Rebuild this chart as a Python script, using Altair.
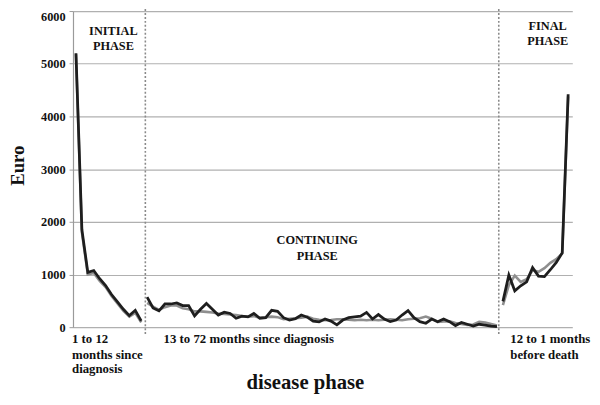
import altair as alt
import pandas as pd

# ---- data (Euro per month) ----
initial_dark = [5200, 1850, 1040, 1075, 920, 790, 620, 480, 340, 220, 320, 120]
initial_gray = [5180, 1800, 1000, 1030, 880, 760, 590, 450, 310, 200, 270, 90]

continuing_dark = [570, 365, 310, 440, 440, 460, 410, 410, 215, 340,
                   450, 340, 230, 285, 260, 170, 210, 195, 260, 170,
                   180, 320, 300, 180, 135, 160, 230, 190, 115, 100,
                   155, 115, 45, 135, 180, 195, 210, 280, 155, 240,
                   155, 105, 135, 230, 315, 180, 105, 75, 155, 105,
                   155, 105, 30, 90, 55, 20, 55, 40, 20, 10]
continuing_gray = [460, 390, 330, 380, 410, 410, 360, 340, 300, 300,
                   290, 280, 260, 250, 240, 230, 210, 200, 210, 180,
                   190, 200, 190, 150, 160, 170, 180, 200, 160, 140,
                   130, 135, 150, 150, 140, 130, 140, 130, 140, 130,
                   140, 150, 140, 130, 150, 160, 170, 200, 160, 100,
                   110, 110, 80, 60, 40, 50, 100, 90, 60, 30]

final_dark = [490, 990, 690, 785, 860, 1130, 970, 960, 1090, 1230, 1410, 4420]
final_gray = [420, 800, 980, 860, 910, 1080, 1050, 1120, 1220, 1290, 1400, 4380]

phases = ["initial", "continuing", "final"]
y_ticks = [0, 1000, 2000, 3000, 4000, 5000, 6000]
boundaries = [11.7, 71.3]

phase_titles = [("INITIAL", "PHASE"), ("CONTINUING", "PHASE"), ("FINAL", "PHASE")]
x_labels_initial = ["1 to 12", "months since", "diagnosis"]
x_label_cont = "13 to 72 months since diagnosis"
x_labels_final = ["12 to 1 months", "before death"]
x_title = "disease phase"
y_title = "Euro"

# ---- build table ----
rows = []
idx = 0
for ph, dark, gray in zip(phases,
                          [initial_dark, continuing_dark, final_dark],
                          [initial_gray, continuing_gray, final_gray]):
    for d, g in zip(dark, gray):
        rows.append({"idx": idx, "phase": ph, "series": "dark", "value": d})
        rows.append({"idx": idx, "phase": ph, "series": "gray", "value": g})
        idx += 1
df = pd.DataFrame(rows)

W, H = 507, 321
FONT = "Liberation Serif"

xs = alt.Scale(domain=[-0.5, 83.7], nice=False, zero=False)
ys = alt.Scale(domain=[0, 6000], nice=False)

base = alt.Chart(df)

gray_line = base.transform_filter(alt.datum.series == "gray").mark_line(
    color="#8f8f8f", strokeWidth=2.6
).encode(
    x=alt.X("idx:Q", scale=xs, axis=None),
    y=alt.Y("value:Q", scale=ys,
            axis=alt.Axis(values=y_ticks, title=None, grid=True, format="d",
                          labelFont=FONT, labelFontWeight="bold", labelFontSize=12.5,
                          labelColor="#111111", labelPadding=4,
                          gridColor="#b0b0b0", gridWidth=1.2,
                          domainColor="#9a9a9a", domainWidth=1.2,
                          tickColor="#9a9a9a", tickSize=4,
                          labelBaseline={"expr": "datum.value == 6000 ? 'top' : 'middle'"})),
    detail="phase:N",
)

dark_line = base.transform_filter(alt.datum.series == "dark").mark_line(
    color="#1e1e1e", strokeWidth=2.8
).encode(
    x=alt.X("idx:Q", scale=xs, axis=None),
    y=alt.Y("value:Q", scale=ys),
    detail="phase:N",
)

rules = alt.Chart(pd.DataFrame({"b": boundaries})).mark_rule(
    color="#8a8a8a", strokeDash=[2, 2], strokeWidth=1.6
).encode(
    x=alt.X("b:Q", scale=xs),
    y=alt.value(-2),
    y2=alt.value(H + 8),
)

dummy = pd.DataFrame({"a": [0]})


def txt(s, x, y, size=13, align="center", angle=0):
    kw = dict(text=s, font=FONT, fontWeight="bold", fontSize=size,
              color="#111111", align=align, baseline="middle")
    if angle:
        kw["angle"] = angle
    return alt.Chart(dummy).mark_text(**kw).encode(
        x=alt.value(x), y=alt.value(y))


texts = [
    txt(phase_titles[0][0], 41, 20.5, 12.5),
    txt(phase_titles[0][1], 41, 36, 12.5),
    txt(phase_titles[1][0], 248, 233, 12.5),
    txt(phase_titles[1][1], 248, 249, 12.5),
    txt(phase_titles[2][0], 482, 15, 12.5),
    txt(phase_titles[2][1], 482, 30, 12.5),
    txt(x_labels_initial[0], -1, 333, 13, "left"),
    txt(x_labels_initial[1], -1, 349, 13, "left"),
    txt(x_labels_initial[2], -1, 364, 13, "left"),
    txt(x_label_cont, 92, 333, 13, "left"),
    txt(x_labels_final[0], 444, 333, 13, "left"),
    txt(x_labels_final[1], 444, 349, 13, "left"),
    txt(x_title, 236, 378, 21),
    txt(y_title, -56, 157, 19, angle=270),
]

chart = alt.layer(gray_line, dark_line, rules, *texts).properties(
    width=W, height=H,
    autosize=alt.AutoSizeParams(type="none"),
    padding={"left": 66, "top": 0, "right": 20, "bottom": 80},
).configure_view(stroke=None)

chart.save("out.html", embed_options={"renderer": "svg", "actions": False})
